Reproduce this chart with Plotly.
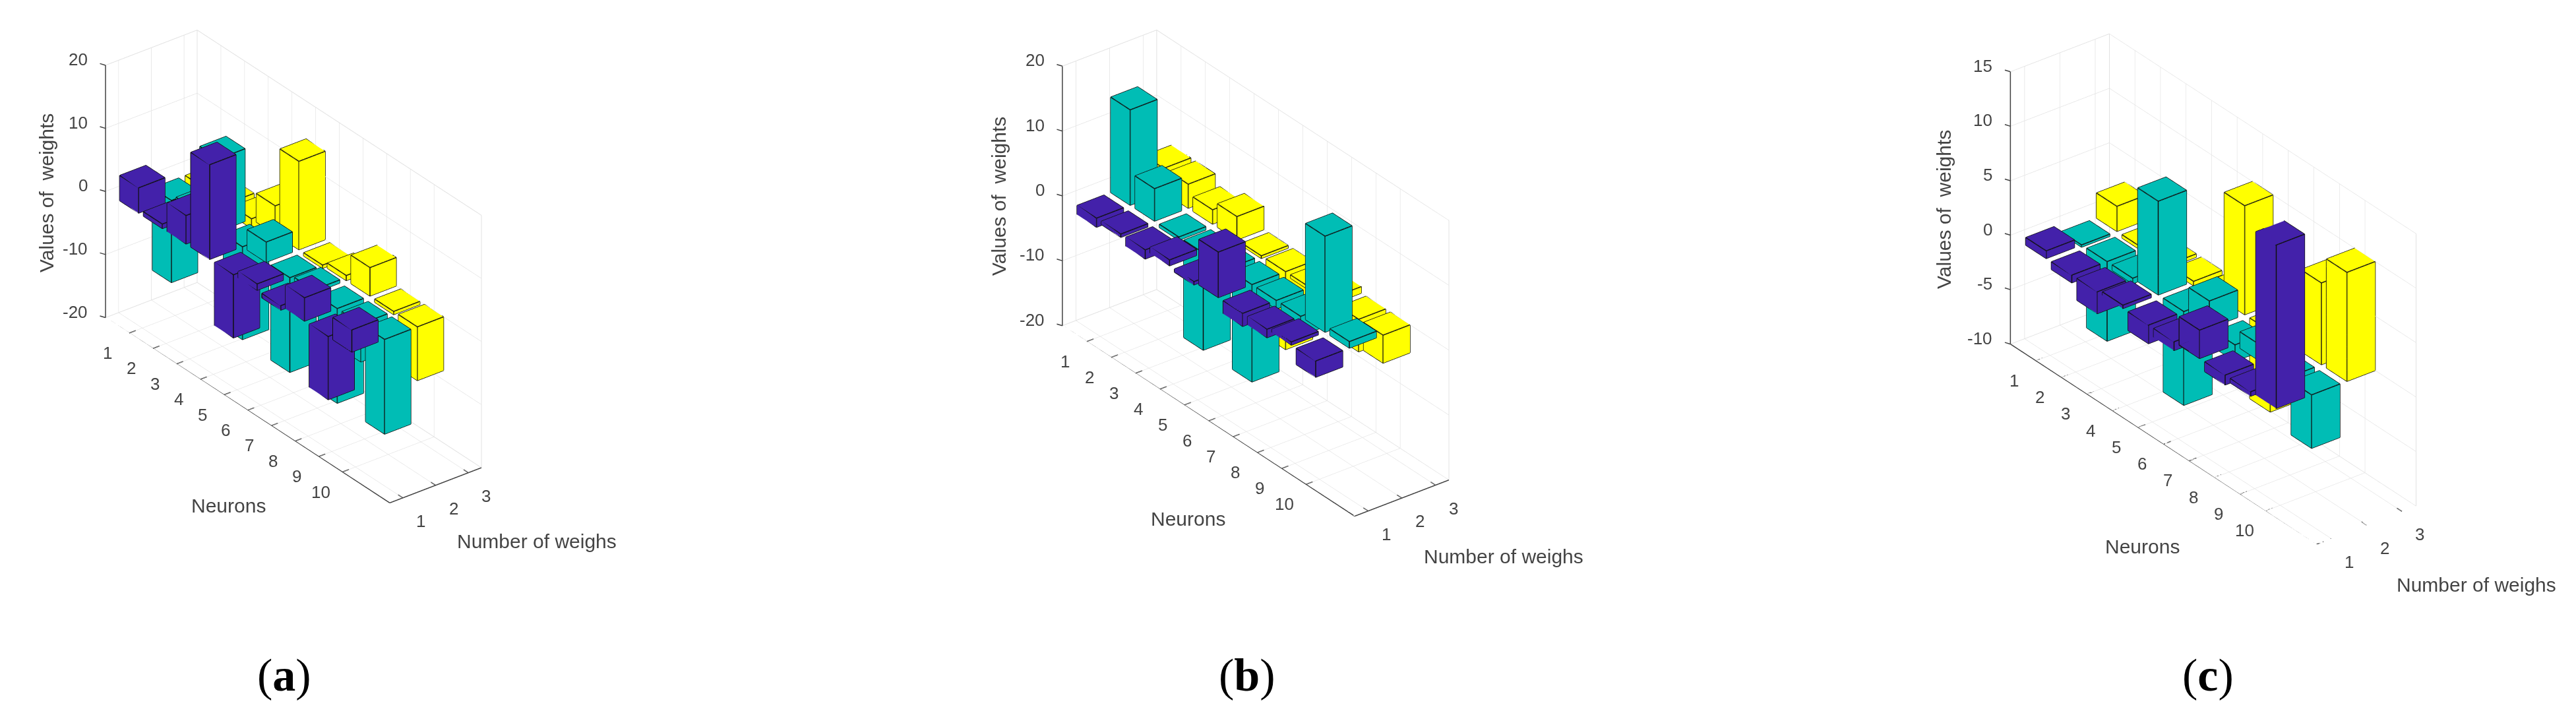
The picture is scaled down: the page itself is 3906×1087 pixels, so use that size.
import numpy as np
import plotly.graph_objects as go

neurons = list(range(1, 11))
weights = [1, 2, 3]

a_purple = [4.0, 0.7, 4.5, 15.0, -10.0, 1.0, -0.7, 3.7, -10.0, 3.5]
a_cyan = [-13.0, 1.0, 11.5, -14.7, 3.2, -15.0, 0.5, -15.0, -6.0, -15.0]
a_yellow = [-2.0, -3.0, -1.5, 4.5, 14.0, -0.5, 0.8, 4.5, -0.5, -8.5]

b_purple = [-1.4, -0.5, -1.4, 0.9, -0.5, 7.0, -2.0, -1.3, 0.5, -2.5]
b_cyan = [14.7, 5.0, -0.5, -15.0, -0.7, -15.0, -1.3, -3.0, 14.8, 1.0]
b_yellow = [3.7, 3.7, 2.2, 3.6, -0.4, -12.0, -0.5, 1.0, -5.0, -4.3]

c_purple = [0.7, -0.7, -2.0, 0.3, -1.7, -0.8, 2.6, -0.9, -0.4, 15.0]
c_cyan = [-0.2, -7.3, -0.5, 8.6, -8.6, 2.5, -1.5, 1.5, -0.8, -4.9]
c_yellow = [2.3, -0.3, -0.3, -0.4, -0.5, 10.0, -7.4, -0.5, 7.5, 10.0]

z_ticks_ab = [-20, -10, 0, 10, 20]
z_ticks_c = [-10, -5, 0, 5, 10, 15]

PURPLE, CYAN, YELLOW = "#4321AA", "#00BDB5", "#FFFF00"
BAR_W = 0.8
XLIM = [0.6, 3.4]
YLIM = [0, 12]
W, H = 3906, 1087
TEXT = "#444444"
FONT = "Liberation Sans"

THETA, PHI = np.radians(37.5), np.radians(30)
ASPECT = dict(x=0.2475, y=1.0, z=0.624)


def bars(wx, vals, color, scene):
    xs, ys, zs, ii, jj, kk = [], [], [], [], [], []
    ex, ey, ez = [], [], []
    h = BAR_W / 2
    for n, v in zip(neurons, vals):
        b = len(xs)
        for z in (0, v):
            for dx, dy in ((-h, -h), (h, -h), (h, h), (-h, h)):
                xs.append(wx + dx)
                ys.append(n + dy)
                zs.append(z)
        faces = [(0, 1, 2), (0, 2, 3), (4, 5, 6), (4, 6, 7)]
        for q in range(4):
            r = (q + 1) % 4
            faces += [(q, r, r + 4), (q, r + 4, q + 4)]
        for f in faces:
            ii.append(b + f[0])
            jj.append(b + f[1])
            kk.append(b + f[2])
        loops = [[0, 1, 2, 3, 0], [4, 5, 6, 7, 4], [0, 4], [1, 5], [2, 6], [3, 7]]
        for lp in loops:
            for p in lp:
                ex.append(xs[b + p])
                ey.append(ys[b + p])
                ez.append(zs[b + p])
            ex.append(None)
            ey.append(None)
            ez.append(None)
    mesh = go.Mesh3d(
        x=xs, y=ys, z=zs, i=ii, j=jj, k=kk, color=color, opacity=1,
        flatshading=True, hoverinfo="skip", showscale=False, scene=scene,
        lighting=dict(ambient=1, diffuse=0, specular=0, roughness=1, fresnel=0),
    )
    edges = go.Scatter3d(
        x=ex, y=ey, z=ez, mode="lines", line=dict(color="#101010", width=3),
        hoverinfo="skip", showlegend=False, scene=scene,
    )
    return [mesh, edges]


def frame(zl, scene):
    x0, x1 = XLIM
    y0, y1 = YLIM
    z0, z1 = zl
    lx, ly, lz = [], [], []

    def seg(a, b):
        lx.extend([a[0], b[0], None])
        ly.extend([a[1], b[1], None])
        lz.extend([a[2], b[2], None])

    seg((x0, y0, z0), (x0, y1, z0))
    seg((x0, y1, z0), (x1, y1, z0))
    seg((x0, y0, z0), (x0, y0, z1))
    for n in neurons:
        seg((x0, n, z0), (x0 + 0.2, n, z0))
    for w in weights:
        seg((w, y1, z0), (w, y1 - 0.2, z0))
    axes = go.Scatter3d(
        x=lx, y=ly, z=lz, mode="lines", line=dict(color="#404040", width=3),
        hoverinfo="skip", showlegend=False, scene=scene,
    )
    gx, gy, gz = [], [], []
    for a, b in [((x0, y0, z0), (x1, y0, z0)), ((x1, y0, z0), (x1, y1, z0)),
                 ((x1, y0, z0), (x1, y0, z1)), ((x1, y1, z0), (x1, y1, z1)),
                 ((x0, y0, z1), (x1, y0, z1)), ((x1, y0, z1), (x1, y1, z1))]:
        gx.extend([a[0], b[0], None])
        gy.extend([a[1], b[1], None])
        gz.extend([a[2], b[2], None])
    walls = go.Scatter3d(
        x=gx, y=gy, z=gz, mode="lines", line=dict(color="#E2E2E2", width=2),
        hoverinfo="skip", showlegend=False, scene=scene,
    )
    return [walls, axes]


def tick_notes(zl, zticks):
    x0 = XLIM[0]
    y0, y1 = YLIM
    notes = []
    common = dict(showarrow=False, font=dict(family=FONT, size=26, color=TEXT))
    for n in neurons:
        notes.append(dict(x=x0, y=n, z=zl[0], text=str(n), xshift=-33, yshift=-30, **common))
    for w in weights:
        notes.append(dict(x=w, y=y1, z=zl[0], text=str(w), xshift=27, yshift=-35, **common))
    for t in zticks:
        notes.append(dict(x=x0, y=y0, z=t, text=str(t), xanchor="right", xshift=-25, yshift=9, **common))
        notes.append(dict(x=x0, y=y0, z=t, text=" ", showarrow=True, arrowhead=0, arrowwidth=1.5,
                          arrowcolor="#404040", ax=-10, ay=-3, standoff=0,
                          font=dict(size=1)))
    return notes


def scene_layout(cx, cy, size, zl, zticks, scale):
    d = np.array([-np.sin(THETA) * np.cos(PHI), -np.cos(THETA) * np.cos(PHI), np.sin(PHI)]) * 1.5
    ax = dict(showbackground=False, showline=False, zeroline=False, showspikes=False,
              showticklabels=False, ticks="", title=dict(text=""),
              gridcolor="#E2E2E2", gridwidth=1.5)
    return dict(
        domain=dict(x=[(cx - size / 2) / W, (cx + size / 2) / W],
                    y=[1 - (cy + size / 2) / H, 1 - (cy - size / 2) / H]),
        aspectmode="manual", aspectratio={k: v * scale * 800 / size for k, v in ASPECT.items()},
        camera=dict(projection=dict(type="orthographic"), up=dict(x=0, y=0, z=1),
                    center=dict(x=0, y=0, z=0),
                    eye=dict(x=float(d[0]), y=float(d[1]), z=float(d[2]))),
        xaxis=dict(ax, range=XLIM, tickmode="array", tickvals=weights),
        yaxis=dict(ax, range=YLIM[::-1], tickmode="array", tickvals=neurons),
        zaxis=dict(ax, range=zl, tickmode="array", tickvals=zticks),
        annotations=tick_notes(zl, zticks),
    )


panels = [
    dict(s="scene", zl=[-20, 20], zt=z_ticks_ab, data=(a_purple, a_cyan, a_yellow), c=(437, 396), scale=1.77,
         neurons=(338, 758), number=(806, 812), values=(62, 285), tag=("a", 423, 1015)),
    dict(s="scene2", zl=[-20, 20], zt=z_ticks_ab, data=(b_purple, b_cyan, b_yellow), c=(1896, 406), scale=1.82,
         neurons=(1793, 778), number=(2272, 835), values=(1506, 290), tag=("b", 1883, 1015)),
    dict(s="scene3", zl=[-10, 15], zt=z_ticks_c, data=(c_purple, c_cyan, c_yellow), c=(3348, 430), scale=1.91,
         neurons=(3240, 820), number=(3747, 878), values=(2939, 310), tag=("c", 3340, 1015)),
]

fig = go.Figure()
layout = dict(width=W, height=H, margin=dict(l=0, r=0, t=0, b=0), paper_bgcolor="white",
              showlegend=False, annotations=[])


def paper_note(px, py, text, size, family=FONT, color=TEXT, angle=0):
    return dict(xref="paper", yref="paper", x=px / W, y=1 - py / H, text=text, showarrow=False,
                xanchor="center", yanchor="middle", textangle=angle,
                font=dict(family=family, size=size, color=color))


for p in panels:
    for tr in frame(p["zl"], p["s"]):
        fig.add_trace(tr)
    for wx, vals, col in zip(weights, p["data"], (PURPLE, CYAN, YELLOW)):
        for tr in bars(wx, vals, col, p["s"]):
            fig.add_trace(tr)
    layout[p["s"]] = scene_layout(p["c"][0], p["c"][1], 780, p["zl"], p["zt"], p["scale"])
    layout["annotations"] += [
        paper_note(*p["neurons"], "Neurons", 30),
        paper_note(*p["number"], "Number of weighs", 30),
        paper_note(*p["values"], "Values of  weights", 30, angle=-90),
        paper_note(p["tag"][1], p["tag"][2], "(<b>%s</b>)" % p["tag"][0], 70, family="Liberation Serif", color="#000000"),
    ]

fig.update_layout(**layout)
fig.write_html("out.html")
